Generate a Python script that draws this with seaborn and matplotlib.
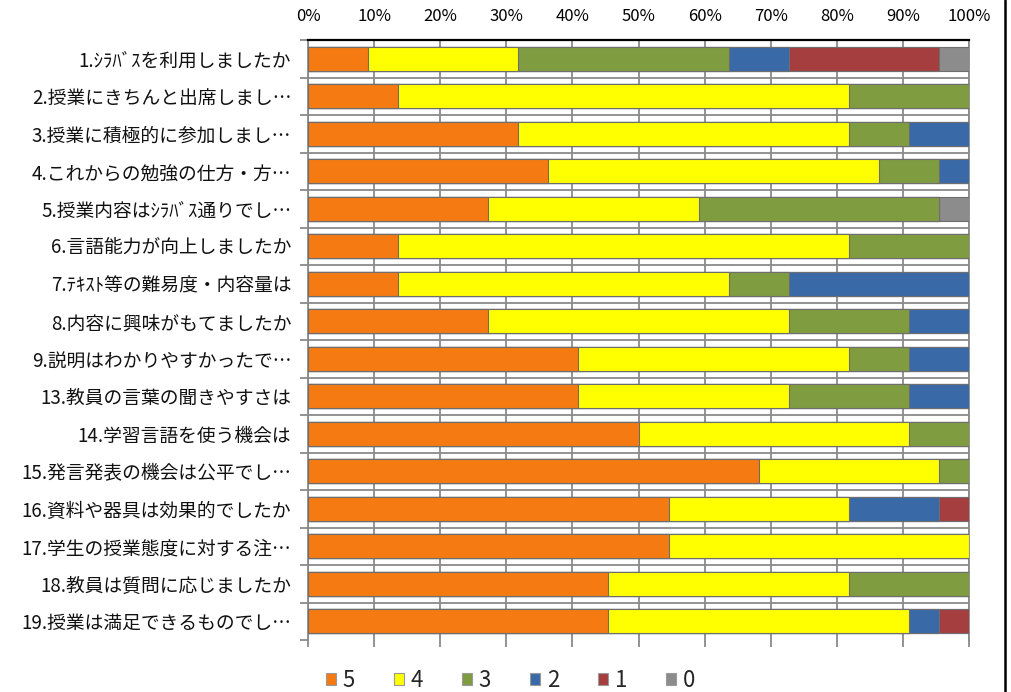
import numpy as np
import pandas as pd
import matplotlib
matplotlib.use("Agg")
import matplotlib.pyplot as plt
import seaborn as sns
from matplotlib.lines import Line2D
from matplotlib.patches import Patch
from matplotlib.ticker import FuncFormatter

# questions (top to bottom) and answer counts per score, 22 answers each
questions = [
    "1.ｼﾗﾊﾞｽを利用しましたか",
    "2.授業にきちんと出席しまし…",
    "3.授業に積極的に参加しまし…",
    "4.これからの勉強の仕方・方…",
    "5.授業内容はｼﾗﾊﾞｽ通りでし…",
    "6.言語能力が向上しましたか",
    "7.ﾃｷｽﾄ等の難易度・内容量は",
    "8.内容に興味がもてましたか",
    "9.説明はわかりやすかったで…",
    "13.教員の言葉の聞きやすさは",
    "14.学習言語を使う機会は",
    "15.発言発表の機会は公平でし…",
    "16.資料や器具は効果的でしたか",
    "17.学生の授業態度に対する注…",
    "18.教員は質問に応じましたか",
    "19.授業は満足できるものでし…",
]
scores = ["5", "4", "3", "2", "1", "0"]
n5 = [2, 3, 7, 8, 6, 3, 3, 6, 9, 9, 11, 15, 12, 12, 10, 10]
n4 = [5, 15, 11, 11, 7, 15, 11, 10, 9, 7, 9, 6, 6, 10, 8, 10]
n3 = [7, 4, 2, 2, 8, 4, 2, 4, 2, 4, 2, 1, 0, 0, 4, 0]
n2 = [2, 0, 2, 1, 0, 0, 6, 2, 2, 2, 0, 0, 3, 0, 0, 1]
n1 = [5, 0, 0, 0, 0, 0, 0, 0, 0, 0, 0, 0, 1, 0, 0, 1]
n0 = [1, 0, 0, 0, 1, 0, 0, 0, 0, 0, 0, 0, 0, 0, 0, 0]

colors = ["#F57A12", "#FFFF00", "#809C40", "#3A69A8", "#A53E3E", "#8C8C8C"]

counts = pd.DataFrame(
    {"5": n5, "4": n4, "3": n3, "2": n2, "1": n1, "0": n0}, index=questions
)
pct = counts.div(counts.sum(axis=1), axis=0) * 100
cum = pct.cumsum(axis=1)
long = cum.reset_index(names="question").melt(
    id_vars="question", var_name="score", value_name="cum"
)

sns.set_theme(style="white")
plt.rcParams["font.family"] = ["Noto Sans CJK JP", "DejaVu Sans"]

fig = plt.figure(figsize=(10.11, 6.92), dpi=100)
ax = fig.add_axes([308 / 1011, 1 - 640 / 692, 661 / 1011, 600 / 692])
ax.set_axisbelow(True)

grid_c = "#8A8A8A"

# stacked 100% bars: draw cumulative totals from the widest down
for s, c in reversed(list(zip(scores, colors))):
    sub = long[long["score"] == s]
    sns.barplot(data=sub, x="cum", y="question", order=questions, orient="h",
                color=c, saturation=1, width=0.64, edgecolor="#6E6E6E",
                linewidth=0.8, ax=ax, zorder=3)

ax.set_xlim(0, 100)
ax.set_ylim(15.5, -0.5)
ax.set_xlabel("")
ax.set_ylabel("")

ax.set_xticks(np.arange(0, 101, 10))
ax.xaxis.set_major_formatter(FuncFormatter(lambda v, p: f"{v:.0f}%"))
ax.tick_params(axis="x", top=False, bottom=True, labeltop=True, labelbottom=False,
               length=5, width=1.3, color=grid_c, direction="out", pad=5.5,
               labelsize=12, labelcolor="black")

ax.set_yticks(np.arange(-0.5, 16, 1), minor=True)
ax.tick_params(axis="y", which="major", length=0, pad=12, labelsize=13.5,
               labelcolor="#111111")
ax.tick_params(axis="y", which="minor", left=True, length=6, width=1.3,
               color=grid_c, direction="out")

ax.grid(axis="x", which="major", color=grid_c, linewidth=1.3)
ax.grid(axis="y", which="minor", color=grid_c, linewidth=1.3)
ax.grid(axis="y", which="major", visible=False)
ax.yaxis.get_minor_ticks()[-1].gridline.set_visible(False)

ax.spines["bottom"].set_visible(False)
ax.spines["left"].set_color(grid_c)
ax.spines["left"].set_linewidth(1.3)
ax.spines["right"].set_color(grid_c)
ax.spines["right"].set_linewidth(1.3)
ax.spines["top"].set_color("black")
ax.spines["top"].set_linewidth(1.6)

handles = [Patch(facecolor=c, edgecolor="#9A9A9A", linewidth=0.8) for c in colors]
fig.legend(handles, scores, loc="center", bbox_to_anchor=(0.505, 0.017), ncol=6,
           frameon=False, handlelength=0.45, handleheight=0.45, handletextpad=0.3,
           columnspacing=1.75, fontsize=16)

fig.add_artist(Line2D([1005 / 1011] * 2, [0, 1], transform=fig.transFigure,
                      color="black", linewidth=1.8))

fig.savefig("out.png", dpi=100)
